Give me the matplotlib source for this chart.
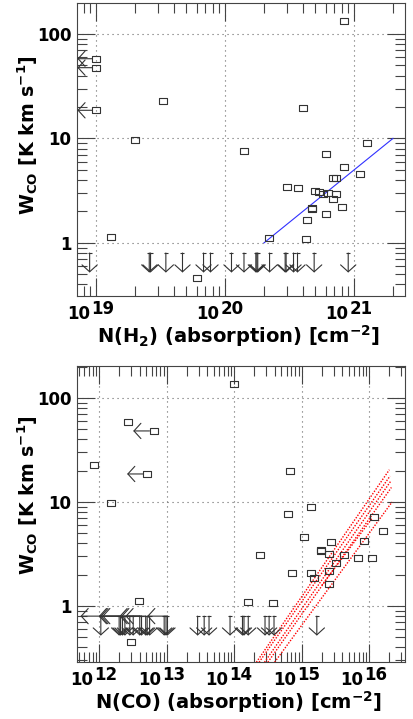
import matplotlib
matplotlib.use("Agg")
import matplotlib.pyplot as plt
import numpy as np
from matplotlib.path import Path
from matplotlib.ticker import FixedLocator, LogLocator, NullFormatter

plt.rcParams["font.family"] = ["DejaVu Sans"]
plt.rcParams["font.weight"] = "bold"
plt.rcParams["mathtext.fontset"] = "custom"
plt.rcParams["mathtext.rm"] = "DejaVu Sans:bold"
plt.rcParams["mathtext.it"] = "DejaVu Sans:bold"
plt.rcParams["mathtext.bf"] = "DejaVu Sans:bold"
plt.rcParams["mathtext.default"] = "rm"

# ---- top panel: W_CO against N(H2)
h2_n = [8.3e20, 1.0e19, 1.0e19, 1.0e19, 3.3e19, 4.0e20, 2.0e19, 1.25e21,
        1.4e20, 6.1e20, 8.4e20, 1.12e21, 7.2e20, 6.9e20, 3.0e20, 3.7e20,
        5.0e20, 5.3e20, 5.7e20, 6.25e20, 7.25e20, 6.8e20, 8.1e20, 4.7e20,
        4.75e20, 6.0e20, 4.35e20, 1.3e19, 2.2e20, 4.27e20, 6.1e19]
h2_w = [133, 58, 47.6, 18.6, 22.7, 19.6, 9.7, 9.0,
        7.6, 7.1, 5.3, 4.57, 4.2, 4.16, 3.46, 3.36,
        3.17, 3.05, 2.94, 3.02, 2.94, 2.62, 2.19, 2.13,
        2.15, 1.87, 1.65, 1.13, 1.11, 1.09, 0.46]
# points with N(H2) upper limits (arrow to the left)
h2_left_n = [1.0e19, 1.0e19, 1.0e19]
h2_left_w = [58, 47.6, 18.6]
# W_CO upper limits (arrow down)
h2_ul_n = [8.9e18, 2.58e19, 2.64e19, 3.47e19, 4.67e19, 6.8e19, 7.7e19,
           1.12e20, 1.40e20, 1.73e20, 1.76e20, 1.79e20, 2.21e20, 2.92e20,
           2.97e20, 3.39e20, 3.64e20, 4.9e20, 9.0e20]
# fitted relation
fit_n = [2e20, 2e21]
fit_w = [1.0, 10.0]

# ---- bottom panel: W_CO against N(CO)
co_n = [9.9e13, 2.7e12, 6.4e12, 5.2e12, 8.5e11, 1.49e12, 6.7e14, 1.4e15,
        6.2e14, 1.19e16, 1.58e16, 1.1e15, 8.5e15, 2.74e15, 2.4e14, 1.95e15,
        1.97e15, 2.53e15, 4.3e15, 6.8e15, 1.1e16, 3.2e15, 2.57e15, 7.2e14,
        1.38e15, 1.5e15, 2.53e15, 3.9e12, 1.6e14, 3.74e14, 3.0e12]
co_w = [135.5, 58.8, 48.2, 18.6, 22.7, 9.7, 19.7, 8.95,
        7.6, 7.1, 5.25, 4.6, 4.25, 4.15, 3.07, 3.43,
        3.38, 3.16, 3.07, 2.89, 2.89, 2.57, 2.17, 2.09,
        2.09, 1.85, 1.63, 1.12, 1.09, 1.08, 0.45]
co_left_n = [6.4e12, 5.2e12]
co_left_w = [48.2, 18.6]
co_ul_n = [1.06e12, 1.98e12, 2.08e12, 2.22e12, 2.41e12, 2.85e12, 3.2e12,
           4.0e12, 4.25e12, 4.9e12, 5.15e12, 5.6e12, 9.2e12, 9.8e12,
           1.03e13, 2.88e13, 3.6e13, 4.25e13, 8.7e13, 1.33e14, 1.4e14,
           1.62e14, 2.87e14, 3.3e14, 3.9e14, 1.68e15]
# limits in both quantities: left arrows at the upper-limit level
co_both_n = [1.06e12, 1.98e12, 2.08e12, 2.22e12, 4.0e12, 4.25e12, 4.9e12, 1.03e13]
# model curves, log10 N(CO) and log10 W_CO at both ends
model_logn0 = [14.33, 14.37, 14.45, 14.50, 14.60, 15.30]
model_logw0 = [-0.54, -0.54, -0.54, -0.54, -0.54, 0.20]
model_logn1 = [16.30, 16.31, 16.32, 16.33, 16.34, 16.04]
model_logw1 = [1.31, 1.25, 1.20, 1.14, 1.00, 0.84]

ul_top, ul_tip = 0.8, 0.52
left_factor = 2.0

EDGE = "#333333"
box = Path([(-1, -0.75), (1, -0.75), (1, 0.75), (-1, 0.75), (-1, -0.75)],
           [Path.MOVETO, Path.LINETO, Path.LINETO, Path.LINETO, Path.CLOSEPOLY])


def arrow(ax, x0, y0, x1, y1, shrink=0):
    ax.annotate("", xy=(x1, y1), xytext=(x0, y0),
                arrowprops=dict(arrowstyle="->,head_length=0.5,head_width=0.55",
                                color=EDGE, lw=0.8, shrinkA=shrink, shrinkB=0,
                                mutation_scale=10))


def style(ax, xlim, ylim, decades, xlabel, ylab_y):
    ax.set_xscale("log")
    ax.set_yscale("log")
    ax.set_xlim(*xlim)
    ax.set_ylim(*ylim)
    ax.xaxis.set_major_locator(FixedLocator([10.0 ** d for d in decades]))
    ax.xaxis.set_minor_locator(LogLocator(base=10, subs=np.arange(2, 10), numticks=30))
    ax.xaxis.set_major_formatter(NullFormatter())
    ax.xaxis.set_minor_formatter(NullFormatter())
    ax.set_yticks([1, 10, 100])
    ax.set_yticklabels(["1", "10", "100"], fontsize=12, fontweight="bold")
    ax.yaxis.set_minor_locator(LogLocator(base=10, subs=np.arange(2, 10), numticks=30))
    ax.yaxis.set_minor_formatter(NullFormatter())
    ax.tick_params(which="both", direction="in", top=True, right=True,
                   color="#444444", width=0.8)
    ax.tick_params(which="major", length=13, pad=4)
    ax.tick_params(which="minor", length=7.5)
    for s in ax.spines.values():
        s.set_color("#444444")
        s.set_linewidth(0.8)
    ax.grid(True, which="major", ls=(0, (1, 3.5)), color="#666666", lw=0.8)
    ax.set_axisbelow(True)
    for d in decades:
        ax.annotate("10", xy=(10.0 ** d, 0), xycoords=("data", "axes fraction"),
                    xytext=(-4.0, -16.6), textcoords="offset points",
                    ha="right", va="baseline", fontsize=12, fontweight="bold")
        ax.annotate(str(d), xy=(10.0 ** d, 0), xycoords=("data", "axes fraction"),
                    xytext=(-3.4, -13.0), textcoords="offset points",
                    ha="left", va="baseline", fontsize=12, fontweight="bold")
    ax.annotate(xlabel, xy=(0.5, 0), xycoords="axes fraction",
                xytext=(-2, -34), textcoords="offset points",
                ha="center", va="baseline", fontsize=14, fontweight="bold")
    ax.text(-0.152, ylab_y, r"W$_{CO}$ [K km s$^{-1}$]", rotation=90,
            transform=ax.transAxes, ha="center", va="center",
            fontsize=13.7, fontweight="bold")


fig = plt.figure(figsize=(4.13, 7.19), dpi=100)
ax1 = fig.add_axes([0.1864, 0.5883, 0.7942, 0.4075])
ax2 = fig.add_axes([0.1864, 0.0793, 0.7942, 0.4117])

# top panel
style(ax1, (7.1e18, 2.48e21), (0.31, 198), [19, 20, 21],
      r"N(H$_2$) (absorption) [cm$^{-2}$]", 0.55)
ax1.plot(fit_n, fit_w, color="#3030ff", lw=0.8)
ax1.plot(h2_n, h2_w, ls="none", marker=box, ms=5.8, mfc="none",
         mec=EDGE, mew=0.8)
for n, w in zip(h2_left_n, h2_left_w):
    arrow(ax1, n, w, 7.15e18, w, shrink=2.9)
for n in h2_ul_n:
    arrow(ax1, n, ul_top, n, ul_tip)
ax1.plot(h2_ul_n, [ul_top] * len(h2_ul_n), ls="none", marker="_", ms=3,
         color=EDGE, mew=0.8)

# bottom panel
style(ax2, (4.7e11, 3.4e16), (0.29, 203), [12, 13, 14, 15, 16],
      r"N(CO) (absorption) [cm$^{-2}$]", 0.564)
for a, b, c, d in zip(model_logn0, model_logw0, model_logn1, model_logw1):
    ax2.plot([10.0 ** a, 10.0 ** c], [10.0 ** b, 10.0 ** d], color="#ff0000",
             ls=(0, (1.0, 1.1)), lw=1.0)
ax2.plot(co_n, co_w, ls="none", marker=box, ms=5.8, mfc="none",
         mec=EDGE, mew=0.8)
for n, w in zip(co_left_n, co_left_w):
    arrow(ax2, n, w, n / left_factor, w, shrink=2.9)
for n in co_ul_n:
    arrow(ax2, n, ul_top, n, ul_tip)
for n in co_both_n:
    arrow(ax2, n, ul_top, max(n / left_factor, 4.75e11), ul_top)
ax2.plot(co_ul_n, [ul_top] * len(co_ul_n), ls="none", marker="_", ms=3,
         color=EDGE, mew=0.8)

fig.savefig("out.png", dpi=100)
